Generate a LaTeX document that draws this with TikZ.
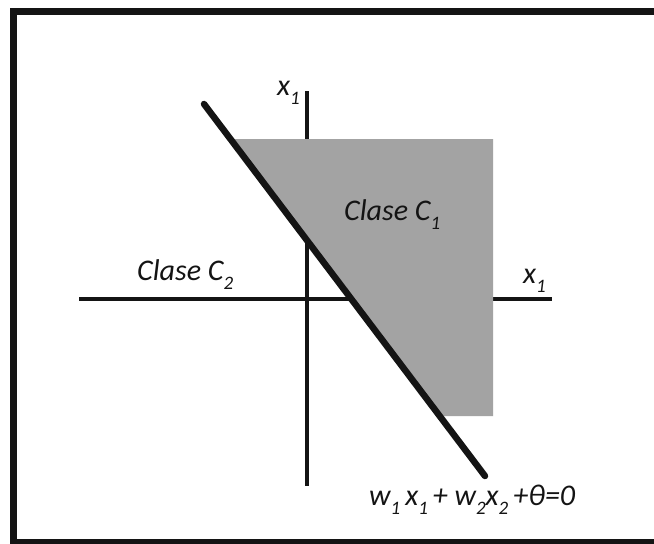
\documentclass[tikz,border=0pt]{standalone}
\usepackage{fontspec}
\setmainfont{Carlito}
\definecolor{regiongray}{RGB}{163,163,163}
\definecolor{inkblack}{RGB}{20,20,20}
\newcommand{\lowsub}[1]{\raisebox{-0.32em}{\fontsize{19}{20}\selectfont #1}}
\tikzset{
  lbl/.style={inner sep=0pt, anchor=base west, font=\fontsize{30}{32}\selectfont\itshape, text=inkblack},
  axis/.style={draw=inkblack, line width=3.6pt},
  boundary/.style={draw=inkblack, line width=6.5pt, line cap=round},
  framebox/.style={draw=inkblack, line width=7pt}
}
\begin{document}
\begin{tikzpicture}[x=1pt,y=-1pt]
\useasboundingbox (0,0) rectangle (654,544);
\fill[white] (0,0) rectangle (654,544);
% coordinates
\coordinate (lineA) at (204,104);
\coordinate (lineB) at (485,476);
\coordinate (vTop) at (307,91);
\coordinate (vBot) at (307,486);
\coordinate (hLeft) at (79,299);
\coordinate (hRight) at (552,299);
% axes
\draw[axis] (vTop) -- (vBot);
\draw[axis] (hLeft) -- (hRight);
% gray region (drawn over the axes)
\fill[regiongray] (231,139) -- (493,139) -- (493,416) -- (441,416) -- cycle;
% decision boundary
\draw[boundary] (lineA) -- (lineB);
% frame
\begin{scope}
\clip (0,0) rectangle (654,544);
\draw[framebox] (13.5,11.5) rectangle (662,542);
\end{scope}
% labels
\node[lbl] (ytop) at (277,95) {x\lowsub{1}};
\node[lbl] (xright) at (523,283) {x\lowsub{1}};
\node[lbl] (c1) at (344,220) {Clase C\lowsub{1}};
\node[lbl] (c2) at (137,280) {Clase C\lowsub{2}};
\node[lbl] (eq) at (369,505) {w\lowsub{1}\,x\lowsub{1}\,+ w\lowsub{2}x\lowsub{2}\,+θ=0};
\end{tikzpicture}
\end{document}
